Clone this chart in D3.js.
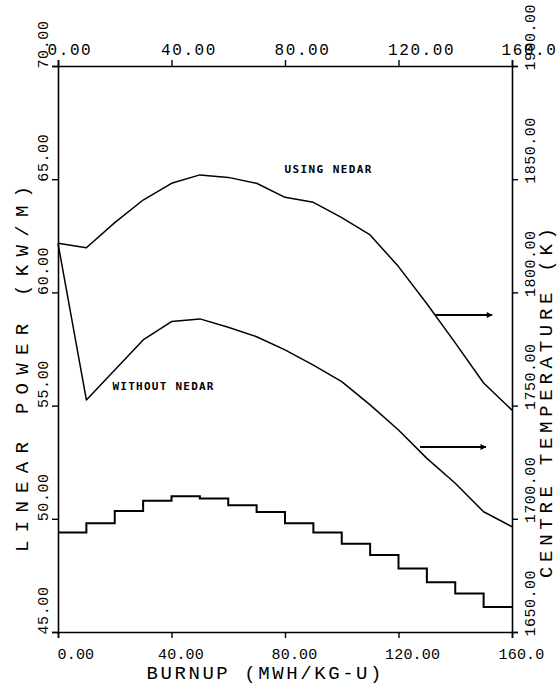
<!DOCTYPE html>
<html>
<head>
<meta charset="utf-8">
<script src="https://cdn.jsdelivr.net/npm/d3@7"></script>
<style>
  html, body { margin: 0; padding: 0; background: #fff; }
  svg { display: block; }
  text { font-family: "Liberation Mono", "DejaVu Sans Mono", monospace; fill: #000; }
</style>
</head>
<body>
<svg id="chart" width="558" height="686"></svg>
<script>
// ---- data ----
const burnup = [0, 10, 20, 30, 40, 50, 60, 70, 80, 90, 100, 110, 120, 130, 140, 150, 160];
const usingNedar = [1821.7, 1819.7, 1830.8, 1840.8, 1848.2, 1851.9, 1850.8, 1848.2, 1842.0, 1839.8, 1833.0, 1825.4, 1811.4, 1795.0, 1777.7, 1760.0, 1748.0];
const withoutNedar = [1821.7, 1752.5, 1765.7, 1779.0, 1787.1, 1788.3, 1784.6, 1780.4, 1774.6, 1767.9, 1760.6, 1750.3, 1739.2, 1726.7, 1715.7, 1703.1, 1696.5];
const stepStart = [0, 10, 20, 30, 40, 50, 60, 70, 80, 90, 100, 110, 120, 130, 140, 150];
const linearPower = [49.4, 49.8, 50.35, 50.8, 51.0, 50.9, 50.6, 50.3, 49.8, 49.4, 48.9, 48.4, 47.8, 47.2, 46.7, 46.1];
const xTicks = [0, 40, 80, 120, 160];
const xTickLabels = ["0.00", "40.00", "80.00", "120.00", "160.0"];
const leftTicks = [45, 50, 55, 60, 65, 70];
const leftTickLabels = ["45.00", "50.00", "55.00", "60.00", "65.00", "70.00"];
const rightTicks = [1650, 1700, 1750, 1800, 1850, 1900];
const rightTickLabels = ["1650.00", "1700.00", "1750.00", "1800.00", "1850.00", "1900.00"];
const curveLabels = ["USING NEDAR", "WITHOUT NEDAR"];
const labelPos = [[79.8, 1852.6], [19.2, 1757.0]];   // burnup, temperature
const arrowFrom = [[132.9, 1790.0], [127.6, 1731.7]];
const arrowTo = [[153.0, 1790.0], [150.8, 1731.7]];

// ---- layout ----
const svg = d3.select("#chart");
const m = { left: 58, right: 46, top: 66, bottom: 54 };
const W = 558 - m.left - m.right, H = 686 - m.top - m.bottom;
const g = svg.append("g").attr("transform", `translate(${m.left},${m.top})`);

const x = d3.scaleLinear().domain([0, 160]).range([0, W]);
const yL = d3.scaleLinear().domain([45, 70]).range([H, 0]);
const yR = d3.scaleLinear().domain([1650, 1900]).range([H, 0]);

function styleAxis(sel) {
  sel.select(".domain").attr("stroke", "#000").attr("stroke-width", 1.6);
  sel.selectAll(".tick line").attr("stroke", "#000").attr("stroke-width", 1.4);
}
const fmtIdx = (arr, labels) => (d) => labels[arr.indexOf(d)];

const axB = g.append("g").attr("transform", `translate(0,${H})`)
  .call(d3.axisBottom(x).tickValues(xTicks).tickFormat(fmtIdx(xTicks, xTickLabels)).tickSizeOuter(0).tickSize(6));
styleAxis(axB);
axB.selectAll(".tick text")
  .attr("font-size", 15).attr("letter-spacing", 0.2)
  .attr("text-anchor", "start")
  .attr("dy", 0)
  .attr("x", (d, i) => i === 0 ? -1 : -14)
  .attr("y", 27);

const axT = g.append("g")
  .call(d3.axisTop(x).tickValues(xTicks).tickFormat(fmtIdx(xTicks, xTickLabels)).tickSizeOuter(0).tickSize(6));
styleAxis(axT);
axT.selectAll(".tick text")
  .attr("font-size", 16).attr("letter-spacing", 1.6)
  .attr("text-anchor", "start")
  .attr("dy", 0)
  .attr("x", -11).attr("y", -11);

const axL = g.append("g")
  .call(d3.axisLeft(yL).tickValues(leftTicks).tickFormat(fmtIdx(leftTicks, leftTickLabels)).tickSizeOuter(0).tickSize(6));
styleAxis(axL);
axL.selectAll(".tick text")
  .attr("font-size", 15).attr("letter-spacing", 0.6)
  .attr("text-anchor", "start")
  .attr("dy", 0)
  .attr("transform", "translate(-10,2) rotate(-90)")
  .attr("x", 0).attr("y", 0);

const axR = g.append("g").attr("transform", `translate(${W},0)`)
  .call(d3.axisRight(yR).tickValues(rightTicks).tickFormat(fmtIdx(rightTicks, rightTickLabels)).tickSizeOuter(0).tickSize(6));
styleAxis(axR);
axR.selectAll(".tick text")
  .attr("font-size", 15).attr("letter-spacing", 0.5)
  .attr("text-anchor", "start")
  .attr("dy", 0)
  .attr("transform", "translate(23,4) rotate(-90)")
  .attr("x", 0).attr("y", 0);

// ---- marks ----
const lineT = d3.line().x((d, i) => x(burnup[i])).y(d => yR(d));
g.append("path").datum(usingNedar).attr("d", lineT)
  .attr("fill", "none").attr("stroke", "#000").attr("stroke-width", 1.5).attr("stroke-linejoin", "round");
g.append("path").datum(withoutNedar).attr("d", lineT)
  .attr("fill", "none").attr("stroke", "#000").attr("stroke-width", 1.5).attr("stroke-linejoin", "round");

const stepData = stepStart.map((b, i) => [b, linearPower[i]]);
stepData.push([160, linearPower[linearPower.length - 1]]);
g.append("path").datum(stepData)
  .attr("d", d3.line().x(d => x(d[0])).y(d => yL(d[1])).curve(d3.curveStepAfter))
  .attr("fill", "none").attr("stroke", "#000").attr("stroke-width", 2);

// curve labels
g.selectAll("text.clabel").data(curveLabels).join("text")
  .attr("class", "clabel")
  .attr("x", (d, i) => x(labelPos[i][0]))
  .attr("y", (d, i) => yR(labelPos[i][1]))
  .attr("font-size", 11).attr("font-weight", "bold")
  .style("font-family", "'DejaVu Sans Mono', monospace")
  .attr("textLength", (d, i) => i === 0 ? 87 : 101)
  .attr("lengthAdjust", "spacing")
  .text(d => d);

// arrows
svg.append("defs").append("marker")
  .attr("id", "ah").attr("viewBox", "0 0 10 10").attr("refX", 9).attr("refY", 5)
  .attr("markerWidth", 7).attr("markerHeight", 6).attr("markerUnits", "userSpaceOnUse")
  .attr("orient", "auto")
  .append("path").attr("d", "M0,0 L10,5 L0,10 Z").attr("fill", "#000");
g.selectAll("line.arrow").data(arrowFrom).join("line")
  .attr("class", "arrow")
  .attr("x1", d => x(d[0])).attr("y1", d => yR(d[1]))
  .attr("x2", (d, i) => x(arrowTo[i][0])).attr("y2", (d, i) => yR(arrowTo[i][1]))
  .attr("stroke", "#000").attr("stroke-width", 2)
  .attr("marker-end", "url(#ah)");

// axis titles
svg.append("text")
  .attr("x", 264).attr("y", 679).attr("text-anchor", "middle")
  .attr("font-size", 19).attr("textLength", 235).attr("lengthAdjust", "spacing")
  .text("BURNUP  (MWH/KG-U)");
svg.append("text")
  .attr("transform", "translate(28,369) rotate(-90)").attr("text-anchor", "middle")
  .attr("font-size", 19).attr("textLength", 366).attr("lengthAdjust", "spacing")
  .text("LINEAR POWER (KW/M)");
svg.append("text")
  .attr("transform", "translate(552,403) rotate(-90)").attr("text-anchor", "middle")
  .attr("font-size", 19).attr("textLength", 350).attr("lengthAdjust", "spacing")
  .text("CENTRE TEMPERATURE (K)");
</script>
</body>
</html>
